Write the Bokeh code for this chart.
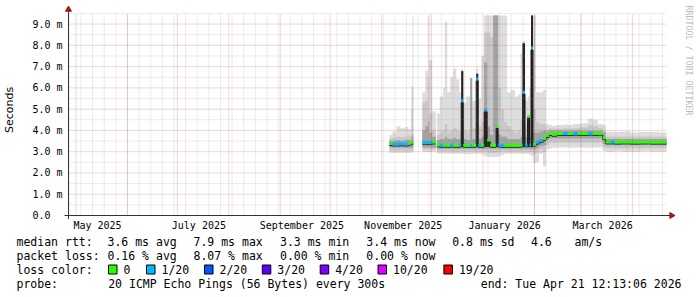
import numpy as np
import pandas as pd
from math import pi
from bokeh.plotting import figure
from bokeh.layouts import column
from bokeh.models import (Range1d, FixedTicker, DatetimeTickFormatter, ColumnDataSource)
from bokeh.core.properties import value
from bokeh.transform import dodge
from bokeh.embed import file_html
from bokeh.resources import INLINE

# ---------------------------------------------------------------- data
END = pd.Timestamp("2026-04-21 12:13:06")
START = END - pd.Timedelta(days=360)
T0 = pd.Timestamp("2025-11-01")          # bin times are days since this date

bin_start = [4.7, 6.5, 8.9, 11.3, 13.7, 16.1, 17.9, 18.5,
             24.5, 26.3, 27.8, 28.7, 30.5,
             33.2, 35.0, 37.1, 38.0, 39.5, 41.3, 43.1, 44.9, 46.7, 47.9,
             49.1, 50.9, 53.3, 54.5, 56.9, 58.1, 59.9, 61.7, 63.5, 65.3,
             67.1, 68.9, 70.1, 71.9, 73.7, 75.5, 77.9, 80.3, 82.1, 83.6,
             84.8, 86.3, 87.8, 89.0, 89.9, 91.1, 92.9, 94.7, 97.1, 98.9,
             100.7, 102.5, 105.5, 109.1, 112.1, 115.1, 118.1, 121.1, 124.1, 127.1,
             130.1, 133.1, 134.9, 137.9, 140.3, 143.9, 149.9, 155.9, 161.9, 166.7]
bin_end = [6.5, 8.9, 11.3, 13.7, 16.1, 17.9, 18.5, 19.1,
           26.3, 27.8, 28.7, 30.5, 32.6,
           35.0, 37.1, 38.0, 39.5, 41.3, 43.1, 44.9, 46.7, 47.9, 49.1,
           50.9, 53.3, 54.5, 56.9, 58.1, 59.9, 61.7, 63.5, 65.3, 67.1,
           68.9, 70.1, 71.9, 73.7, 75.5, 77.9, 80.3, 82.1, 83.6, 84.8,
           86.3, 87.8, 89.0, 89.9, 91.1, 92.9, 94.7, 97.1, 98.9, 100.7,
           102.5, 105.5, 109.1, 112.1, 115.1, 118.1, 121.1, 124.1, 127.1, 130.1,
           133.1, 134.9, 137.9, 140.3, 143.9, 149.9, 155.9, 161.9, 166.7, 171.5]
median_ms = [3.38, 3.36, 3.36, 3.37, 3.36, 3.40, 3.45, 3.45,
             3.44, 3.44, 3.42, 3.44, 3.46,
             3.32, 3.30, 3.30, 3.31, 3.30, 3.31, 3.30, 3.30, 3.31, 5.40,
             3.30, 3.30, 3.30, 3.30, 6.42, 3.30, 3.30, 4.96, 3.55, 3.30,
             3.30, 4.18, 3.31, 3.30, 3.30, 3.30, 3.30, 3.30, 3.30, 3.31,
             5.80, 3.32, 4.65, 3.32, 7.87, 3.35, 3.45, 3.52, 3.62, 3.76,
             3.85, 3.82, 3.86, 3.86, 3.86, 3.87, 3.86, 3.86, 3.87, 3.86,
             3.87, 3.65, 3.46, 3.46, 3.45, 3.46, 3.45, 3.46, 3.45, 3.45]
loss_of_20 = [0, 1, 1, 1, 1, 0, 0, 0,
              1, 1, 1, 1, 0,
              0, 1, 0, 0, 0, 1, 0, 0, 1, 1,
              0, 0, 1, 0, 1, 1, 0, 1, 0, 0,
              0, 0, 1, 1, 0, 0, 0, 0, 0, 0,
              1, 1, 0, 1, 1, 0, 1, 1, 0, 0,
              0, 0, 0, 1, 0, 1, 0, 0, 1, 0,
              0, 0, 0, 1, 0, 0, 0, 0, 0, 0]
outer_lo = [2.95, 2.95, 2.95, 2.95, 2.95, 2.95, 2.95, 2.95,
            2.98, 2.98, 2.98, 3.00, 3.00,
            2.92, 2.92, 2.92, 2.90, 2.90, 2.90, 2.90, 2.90, 2.90, 2.90,
            2.90, 2.88, 2.90, 2.90, 2.90, 2.90, 2.88, 2.80, 2.75, 2.75,
            2.75, 2.75, 2.78, 2.85, 2.90, 2.90, 2.90, 2.92, 2.90, 2.90,
            2.90, 2.90, 2.90, 2.85, 2.80, 2.47, 2.50, 2.90, 2.30, 3.10,
            3.15, 3.18, 3.20, 3.20, 3.18, 3.20, 3.20, 3.18, 3.20, 3.20,
            3.20, 3.05, 3.00, 3.00, 3.02, 3.00, 3.00, 3.02, 3.00, 3.00]
outer_hi = [3.80, 3.95, 4.20, 4.10, 4.15, 4.05, 6.10, 9.40,
            5.80, 6.80, 9.40, 7.30, 4.90,
            4.80, 5.60, 6.00, 9.10, 5.80, 6.50, 6.90, 6.40, 5.80, 6.90,
            5.30, 5.60, 5.20, 5.40, 6.90, 5.50, 7.50, 9.40, 9.40, 9.40,
            9.40, 9.40, 9.40, 9.40, 9.40, 5.80, 5.90, 5.60, 5.70, 7.60,
            8.20, 5.40, 5.60, 6.00, 9.40, 9.40, 5.80, 5.80, 5.90, 4.30,
            4.25, 4.22, 4.25, 4.28, 4.25, 4.30, 4.32, 4.35, 4.55, 4.50,
            4.30, 4.25, 3.95, 3.95, 3.92, 3.95, 3.90, 3.94, 3.92, 3.90]
mid_lo = [3.05, 3.05, 3.05, 3.05, 3.05, 3.05, 3.05, 3.05,
          3.10, 3.10, 3.10, 3.10, 3.10,
          3.02, 3.02, 3.02, 3.02, 3.02, 3.02, 3.02, 3.02, 3.02, 3.02,
          3.02, 3.02, 3.02, 3.02, 3.02, 3.02, 3.02, 3.00, 2.95, 2.95,
          2.95, 2.95, 2.98, 3.02, 3.02, 3.02, 3.02, 3.02, 3.02, 3.02,
          3.02, 3.02, 3.02, 3.00, 2.98, 2.90, 2.95, 3.10, 3.00, 3.30,
          3.42, 3.42, 3.42, 3.42, 3.42, 3.42, 3.42, 3.42, 3.42, 3.42,
          3.42, 3.22, 3.16, 3.16, 3.16, 3.16, 3.16, 3.16, 3.16, 3.16]
mid_hi = [3.62, 3.65, 3.72, 3.68, 3.70, 3.75, 5.00, 6.00,
          5.30, 5.40, 6.50, 4.80, 4.00,
          3.80, 3.90, 4.00, 4.30, 3.90, 4.00, 4.10, 4.00, 3.90, 6.80,
          4.00, 3.95, 6.46, 4.10, 6.66, 4.20, 4.40, 8.60, 8.60, 8.40,
          9.40, 9.40, 6.00, 5.00, 4.40, 4.20, 4.00, 3.90, 4.00, 4.50,
          8.10, 4.20, 4.65, 4.50, 9.40, 5.00, 4.40, 4.30, 4.30, 4.05,
          4.10, 4.08, 4.08, 4.10, 4.08, 4.10, 4.12, 4.15, 4.25, 4.20,
          4.12, 4.00, 3.72, 3.72, 3.70, 3.72, 3.70, 3.72, 3.70, 3.70]
inner_lo = [3.18, 3.18, 3.18, 3.18, 3.18, 3.18, 3.18, 3.18,
            3.20, 3.20, 3.20, 3.20, 3.20,
            3.14, 3.14, 3.14, 3.14, 3.14, 3.14, 3.14, 3.14, 3.14, 3.14,
            3.14, 3.14, 3.14, 3.14, 3.14, 3.14, 3.14, 3.14, 3.14, 3.14,
            3.14, 3.14, 3.14, 3.14, 3.14, 3.14, 3.14, 3.14, 3.14, 3.14,
            3.14, 3.14, 3.14, 3.14, 3.12, 3.10, 3.15, 3.25, 3.30, 3.55,
            3.62, 3.62, 3.62, 3.62, 3.62, 3.62, 3.62, 3.62, 3.62, 3.62,
            3.62, 3.35, 3.30, 3.30, 3.30, 3.30, 3.30, 3.30, 3.30, 3.30]
inner_hi = [3.52, 3.52, 3.55, 3.52, 3.55, 3.55, 3.70, 3.80,
            4.00, 4.20, 4.40, 3.90, 3.70,
            3.55, 3.60, 3.60, 3.70, 3.60, 3.60, 3.65, 3.60, 3.60, 6.80,
            3.60, 3.55, 6.46, 3.60, 6.66, 3.60, 3.70, 7.20, 4.20, 3.80,
            9.40, 9.40, 3.80, 3.70, 3.70, 3.60, 3.60, 3.60, 3.60, 3.70,
            8.10, 3.70, 4.65, 3.70, 9.40, 3.90, 3.90, 3.95, 4.00, 3.95,
            4.00, 3.98, 3.98, 3.98, 3.98, 3.98, 3.98, 3.98, 3.98, 3.98,
            3.98, 3.90, 3.60, 3.60, 3.60, 3.60, 3.60, 3.60, 3.60, 3.60]
# darkest smoke core where the middle pings spread upwards
core_start = [47.9, 56.9, 61.7, 63.5, 68.9, 84.8, 87.8, 89.9]
core_end = [49.1, 58.1, 63.5, 65.3, 70.1, 86.3, 89.0, 91.1]
core_lo = [3.22, 3.22, 3.22, 3.22, 3.22, 3.22, 3.22, 3.22]
core_hi = [6.78, 6.66, 4.96, 3.55, 4.18, 8.10, 4.65, 9.40]

y_ticks = [0, 1, 2, 3, 4, 5, 6, 7, 8, 9]
y_tick_labels = ["0.0\u00a0\u00a0", "1.0 m", "2.0 m", "3.0 m", "4.0 m", "5.0 m",
                 "6.0 m", "7.0 m", "8.0 m", "9.0 m"]
x_label_months = ["2025-05-01", "2025-07-01", "2025-09-01", "2025-11-01",
                  "2026-01-01", "2026-03-01"]

loss_levels = [0, 1, 2, 3, 4, 10, 19]
loss_names = ["0", "1/20", "2/20", "3/20", "4/20", "10/20", "19/20"]
loss_colors = ["#26ff00", "#00b8ff", "#0059ff", "#5e00ff", "#7e00ff", "#dd00ff", "#ff0000"]

rtt_stats = [3.6, 7.9, 3.3, 3.4, 0.8]
rtt_names = ["avg", "max", "min", "now", "sd"]
rtt_amps = 4.6
loss_stats = [0.16, 8.07, 0.00, 0.00]
loss_stat_names = ["avg", "max", "min", "now"]
probe_text = "20 ICMP Echo Pings (56 Bytes) every 300s"
end_text = "end: Tue Apr 21 12:13:06 2026"
watermark = "RRDTOOL / TOBI OETIKER"

# ---------------------------------------------------------------- geometry
MONO = "DejaVu Sans Mono"
PX_DAY = 600 / 360            # graph is 600 px wide for 360 days
PX_MS = 201 / 9.45            # pixels per millisecond of rtt


def dpx(px):                  # horizontal pixel distance -> timedelta
    return pd.Timedelta(days=px / PX_DAY)


def vpx(px):                  # vertical pixel distance -> ms
    return px / PX_MS


X0 = START - dpx(6)           # frame starts 6 px left of the graph
X1 = END + dpx(31)            # frame runs to the right edge of the image
Y0 = -vpx(4)                  # frame ends 4 px below zero
Y1 = vpx(215)                 # frame reaches the top of the image
GRAPH_TOP = vpx(202)          # top of the gridded area


def days_to_dt(days):
    return T0 + pd.to_timedelta(np.asarray(days, dtype=float), unit="D")


def to_ms(idx):
    return (pd.DatetimeIndex(idx).asi8 / 1e6).tolist()


n = len(bin_start)
segments, cur = [], [0]
for i in range(1, n):
    if abs(bin_start[i] - bin_end[i - 1]) > 1e-9:
        segments.append(cur)
        cur = [i]
    else:
        cur.append(i)
segments.append(cur)

# ---------------------------------------------------------------- main plot
p = figure(width=697, height=236, x_axis_type="datetime",
           x_range=Range1d(X0, X1), y_range=Range1d(Y0, Y1),
           output_backend="svg", toolbar_location=None,
           min_border_left=60, min_border_right=0, min_border_top=0,
           min_border_bottom=17)
p.outline_line_color = None
p.background_fill_color = "white"
p.border_fill_color = "white"
p.xgrid.grid_line_color = None
p.ygrid.grid_line_color = None

bands = [(outer_lo, outer_hi, "#dddddd"),
         (mid_lo, mid_hi, "#c8c8c8"),
         (inner_lo, inner_hi, "#a2a2a2")]
for lo, hi, col in bands:
    for seg in segments:
        xs = [bin_start[i] for i in seg] + [bin_end[seg[-1]]]
        y1 = [lo[i] for i in seg] + [lo[seg[-1]]]
        y2 = [hi[i] for i in seg] + [hi[seg[-1]]]
        p.varea_step(x=days_to_dt(xs), y1=y1, y2=y2, step_mode="after",
                     fill_color=col)

p.quad(left=days_to_dt(core_start), right=days_to_dt(core_end),
       bottom=core_lo, top=core_hi, fill_color="#242424", line_color=None)

for seg in segments:
    xs, ys = [], []
    for i in seg:
        xs += [bin_start[i], bin_end[i]]
        ys += [median_ms[i], median_ms[i]]
    src = ColumnDataSource(dict(x=days_to_dt(xs), y=ys))
    p.line(x="x", y=dodge("y", -0.09, range=p.y_range), source=src,
           line_color="#1c1c1c", line_width=1)

st = days_to_dt(bin_start)
en = days_to_dt(bin_end)
centers = st + (en - st) / 2
widths = np.asarray((en - st) / pd.Timedelta(milliseconds=1), dtype=float)
cmap = dict(zip(loss_levels, loss_colors))
p.rect(x=centers, y=median_ms, width=widths, height=3, height_units="screen",
       fill_color=[cmap[l] for l in loss_of_20], line_color=None)

# grid on top of the smoke: translucent dotted lines inside the graph area
week_lines = pd.date_range(START.normalize(), END, freq="W-SUN")
month_lines = pd.date_range(START.normalize(), END, freq="MS")
GRID_MINOR = "#8c8c8c"
GRID_MAJOR = "#c81e1e"
for lines, col, a in [(week_lines, GRID_MINOR, 0.33), (month_lines, GRID_MAJOR, 0.36)]:
    p.segment(x0=lines, x1=lines, y0=[0] * len(lines), y1=[GRAPH_TOP] * len(lines),
              line_color=col, line_alpha=a, line_dash="1 1", line_width=1)
minor_y = [t + 0.5 for t in y_ticks]
major_y = y_ticks[1:]
for ys, col, a in [(minor_y, GRID_MINOR, 0.33), (major_y, GRID_MAJOR, 0.36)]:
    p.segment(x0=[START] * len(ys), x1=[END] * len(ys), y0=ys, y1=ys,
              line_color=col, line_alpha=a, line_dash="1 1", line_width=1)

# axes lines with arrow heads
AXIS_COL = "#333333"
ARROW_COL = "#9c1c1c"
p.segment(x0=[START], x1=[START], y0=[Y0], y1=[vpx(205)], line_color=AXIS_COL, line_width=1)
p.segment(x0=[START - dpx(4)], x1=[END + dpx(4)], y0=[0], y1=[0],
          line_color=AXIS_COL, line_width=1)
p.scatter(x=[START], y=[vpx(206)], marker="triangle", size=6,
          fill_color=ARROW_COL, line_color=ARROW_COL)
p.scatter(x=[END + dpx(5)], y=[0], marker="triangle", size=6, angle=-pi / 2,
          fill_color=ARROW_COL, line_color=ARROW_COL)

# vertical watermark on the right
p.text(x=[END + dpx(22.5)], y=[vpx(210)], text=[watermark], angle=-pi / 2,
       text_font=value(MONO), text_font_size="8.3px", text_color="#bbbbbb",
       text_align="left", text_baseline="middle")

yax = p.yaxis[0]
yax.ticker = FixedTicker(ticks=y_ticks, minor_ticks=[])
yax.major_label_overrides = {t: lab for t, lab in zip(y_ticks, y_tick_labels)}
yax.major_tick_line_color = None
yax.minor_tick_line_color = None
yax.major_tick_out = 0
yax.major_tick_in = 0
yax.major_label_standoff = 0
yax.major_label_text_font = MONO
yax.major_label_text_font_size = "10px"
yax.major_label_text_color = "black"
yax.axis_line_color = None
yax.axis_label = "Seconds"
yax.axis_label_text_font = "DejaVu Sans"
yax.axis_label_text_font_size = "11px"
yax.axis_label_text_font_style = "normal"
yax.axis_label_text_color = "black"
yax.axis_label_standoff = 13

label_ticks = [pd.Timestamp(m) + pd.Timedelta(days=13) for m in x_label_months]
xax = p.xaxis[0]
xax.ticker = FixedTicker(ticks=to_ms(label_ticks), minor_ticks=[])
fmt = "%B %Y"
xax.formatter = DatetimeTickFormatter(
    microseconds=fmt, milliseconds=fmt, seconds=fmt, minsec=fmt, minutes=fmt,
    hourmin=fmt, hours=fmt, days=fmt, months=fmt, years=fmt)
xax.major_tick_line_color = None
xax.minor_tick_line_color = None
xax.major_tick_out = 0
xax.major_tick_in = 0
xax.major_label_standoff = 0
xax.major_label_text_font = MONO
xax.major_label_text_font_size = "10px"
xax.major_label_text_color = "black"
xax.axis_line_color = None

# ---------------------------------------------------------------- legend strip
L = figure(width=697, height=61, x_range=Range1d(0, 697), y_range=Range1d(0, 61),
           x_axis_type=None, y_axis_type=None, output_backend="svg",
           toolbar_location=None, min_border=0)
L.outline_line_color = None
L.xgrid.visible = False
L.ygrid.visible = False
L.background_fill_color = "white"
L.border_fill_color = "white"
try:
    p.frame_align = False
    L.frame_align = False
except Exception:
    pass

col_x = [107, 193, 279.5, 365.8, 451.7]
row_y = [56, 42, 28, 14]
txt_x, txt_y, txt = [], [], []
txt_x.append(16); txt_y.append(row_y[0]); txt.append("median rtt:")
for cx, v, nm in zip(col_x, rtt_stats, rtt_names):
    txt_x.append(cx); txt_y.append(row_y[0]); txt.append(f"{v:.1f} ms {nm}")
txt_x += [530.5, 574]; txt_y += [row_y[0], row_y[0]]; txt += [f"{rtt_amps:.1f}", "am/s"]
txt_x.append(16); txt_y.append(row_y[1]); txt.append("packet loss:")
for cx, v, nm in zip(col_x, loss_stats, loss_stat_names):
    txt_x.append(cx); txt_y.append(row_y[1]); txt.append(f"{v:.2f} % {nm}")
txt_x.append(16); txt_y.append(row_y[2]); txt.append("loss color:")
lab_x = [123, 161, 219, 276.8, 334.7, 392.5, 458.4]
for lx, nm in zip(lab_x, loss_names):
    txt_x.append(lx); txt_y.append(row_y[2]); txt.append(nm)
txt_x += [16, 107.7]; txt_y += [row_y[3], row_y[3]]; txt += ["probe:", probe_text]

L.text(x=txt_x, y=txt_y, text=txt, text_font=value(MONO), text_font_size="11.5px",
       text_baseline="middle", text_align="left", text_color="black")
L.text(x=[681], y=[row_y[3]], text=[end_text], text_font=value(MONO),
       text_font_size="11.5px", text_baseline="middle", text_align="right",
       text_color="black")
L.quad(left=[x - 15 for x in lab_x], right=[x - 6.5 for x in lab_x],
       bottom=[row_y[2] - 4.5] * len(lab_x), top=[row_y[2] + 4.5] * len(lab_x),
       fill_color=loss_colors, line_color="black", line_width=1)

layout = column(p, L, spacing=0)
open("out.html", "w").write(file_html(layout, INLINE))
